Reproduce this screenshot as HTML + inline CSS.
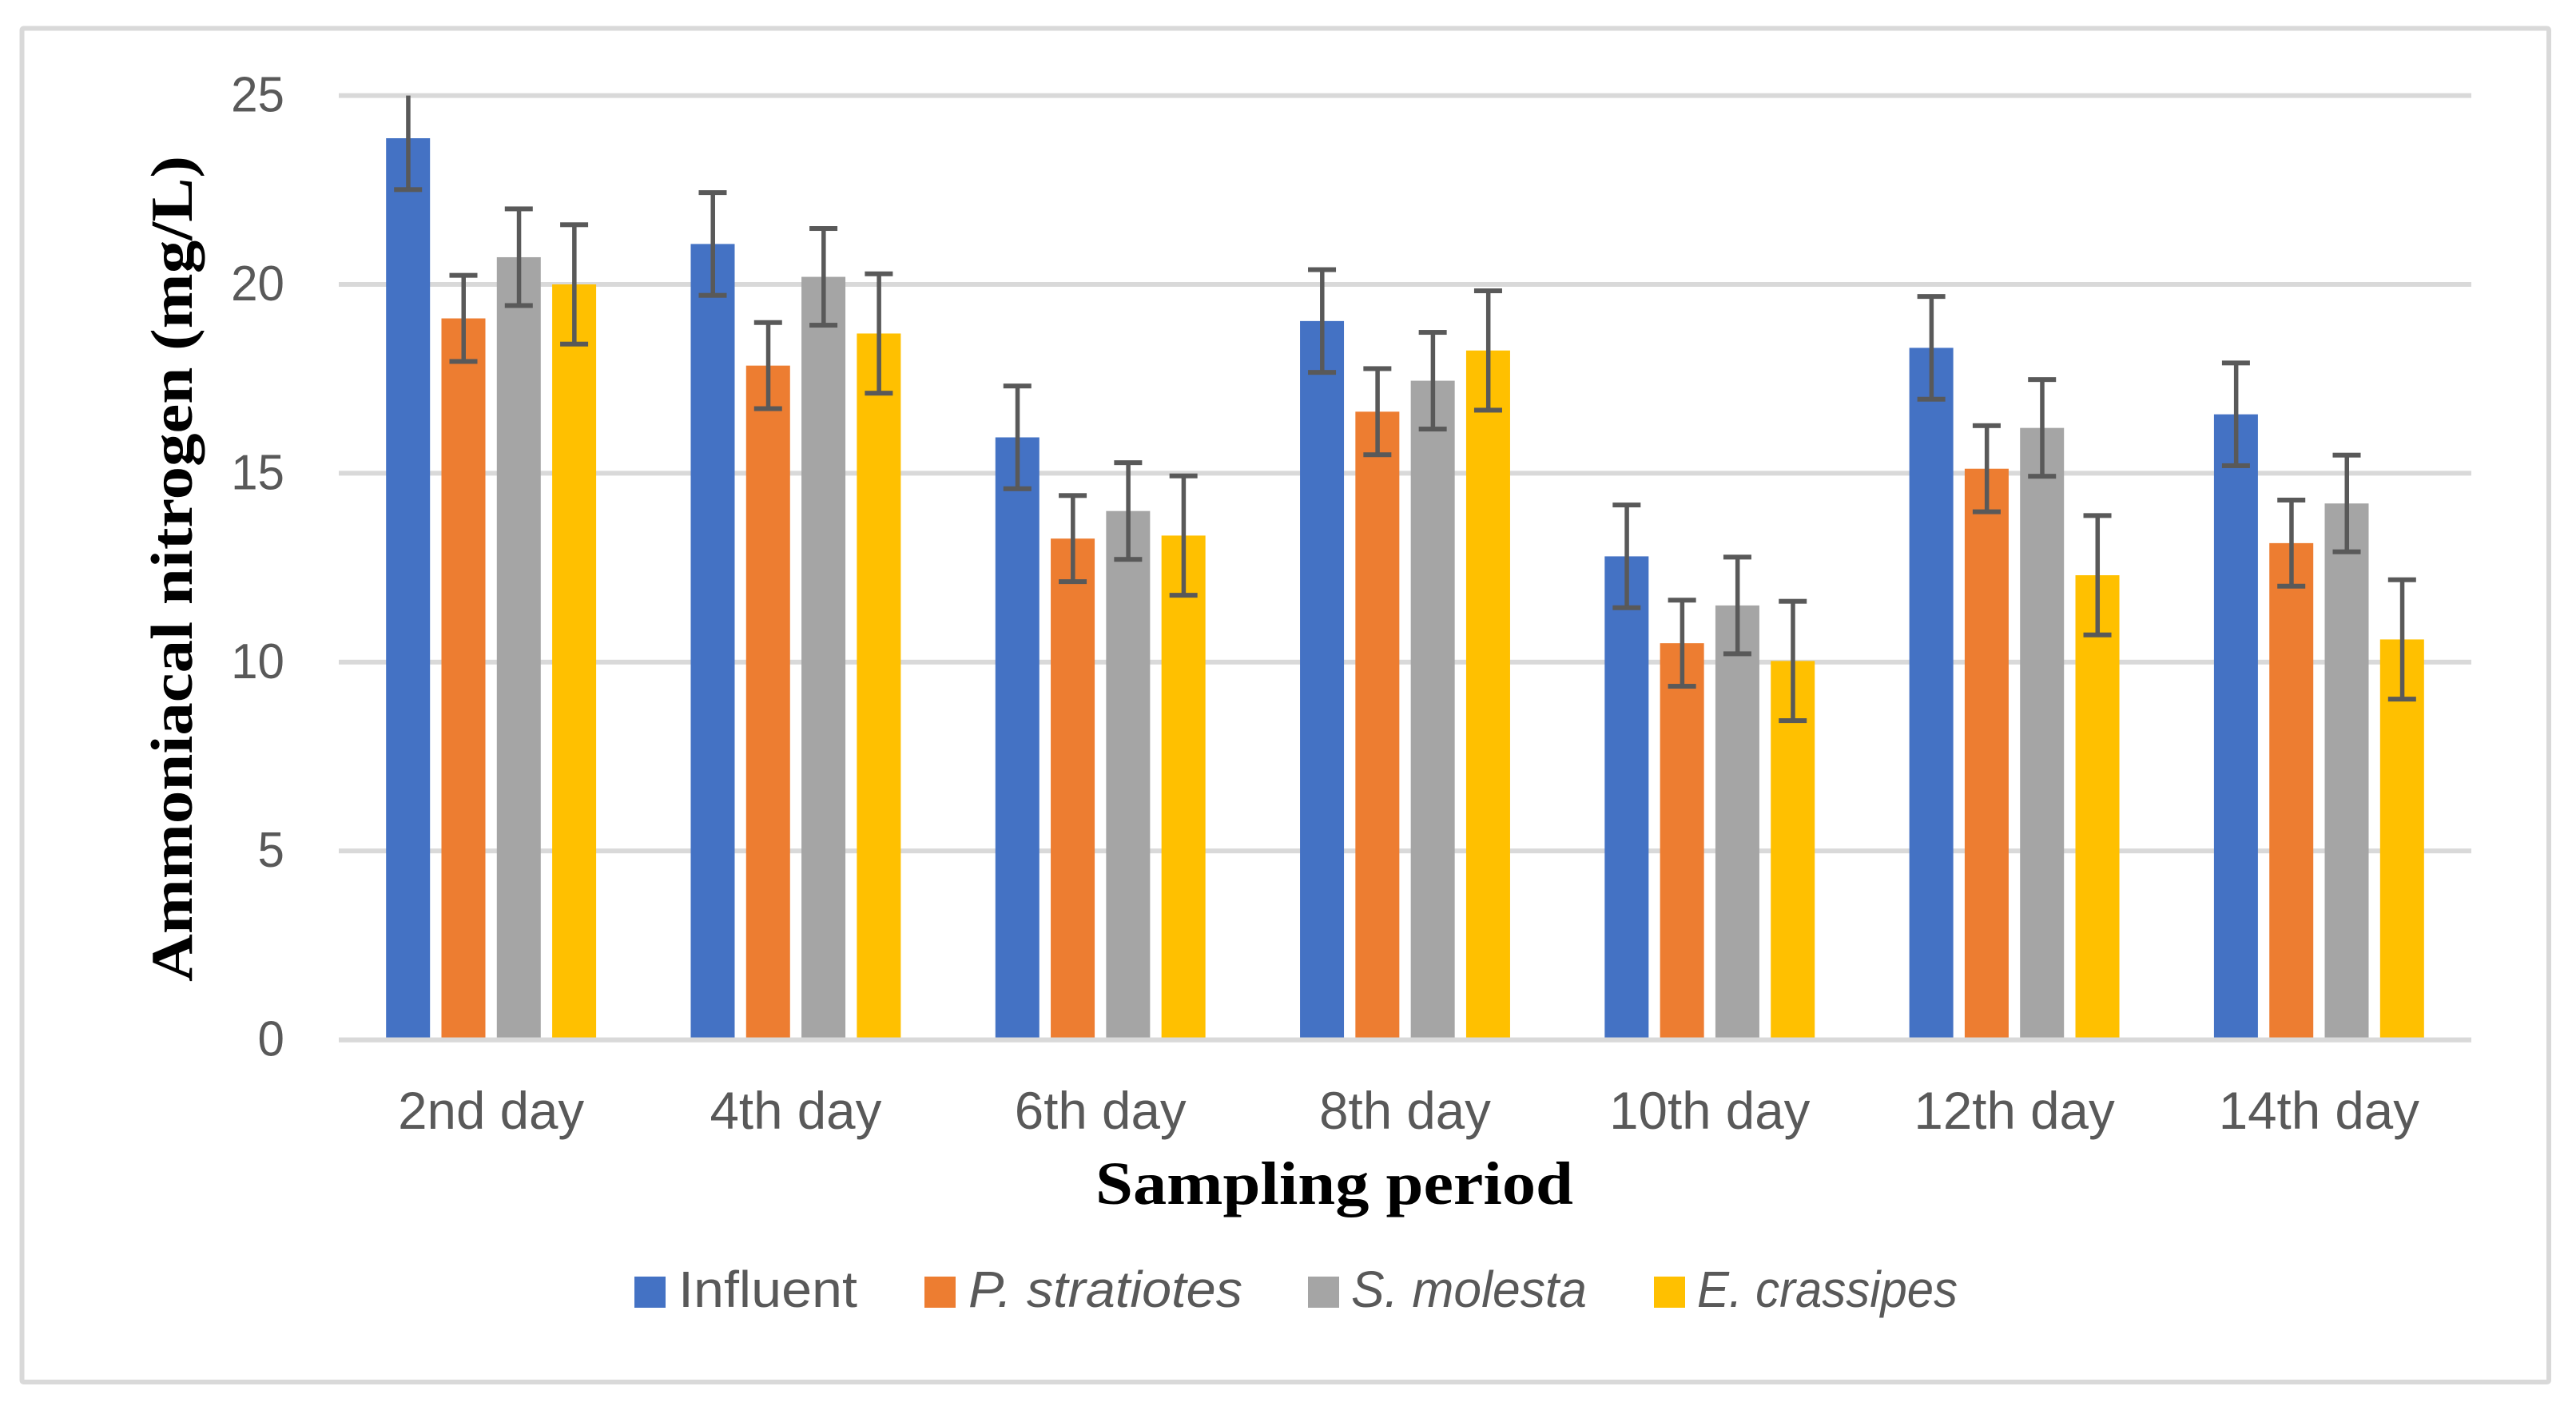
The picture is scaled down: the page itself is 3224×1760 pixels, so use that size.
<!DOCTYPE html>
<html lang="en">
<head>
<meta charset="utf-8">
<title>Ammoniacal nitrogen by sampling period</title>
<style>
  html, body { margin: 0; padding: 0; background: #ffffff; }
  body { width: 3224px; height: 1760px; overflow: hidden; }
  svg { display: block; }
  .sans { font-family: "Liberation Sans", sans-serif; fill: #595959; }
  .serif { font-family: "Liberation Serif", serif; font-weight: bold; fill: #000000; }
</style>
</head>
<body>
<svg id="chart" xmlns="http://www.w3.org/2000/svg" width="3224" height="1760" viewBox="0 0 3224 1760">
  <rect x="27.5" y="35.5" width="3162.5" height="1694.5" rx="2" fill="#ffffff" stroke="#d9d9d9" stroke-width="6"/>
  <g id="grid"></g>
  <g id="ticks"></g>
  <g id="bars"></g>
  <rect x="424" y="1298.6" width="2669" height="6.2" fill="#d9d9d9"/>
  <g id="errors"></g>
  <g id="cats"></g>
  <text class="serif" font-size="74" text-anchor="middle" transform="translate(240 712) rotate(-90)" textLength="1034" lengthAdjust="spacingAndGlyphs">Ammoniacal nitrogen (mg/L)</text>
  <text class="serif" font-size="76" x="1371" y="1507" textLength="598" lengthAdjust="spacingAndGlyphs">Sampling period</text>
  <g>
    <g>
      <rect x="794" y="1598" width="39" height="39" fill="#4472c4"/>
      <text class="sans" font-size="64" x="849" y="1636" textLength="224" lengthAdjust="spacingAndGlyphs">Influent</text>
    </g>
    <g>
      <rect x="1157" y="1598" width="39" height="39" fill="#ed7d31"/>
      <text class="sans" font-size="64" font-style="italic" x="1212" y="1636" textLength="343" lengthAdjust="spacingAndGlyphs">P. stratiotes</text>
    </g>
    <g>
      <rect x="1637" y="1598" width="39" height="39" fill="#a5a5a5"/>
      <text class="sans" font-size="64" font-style="italic" x="1691" y="1636" textLength="295" lengthAdjust="spacingAndGlyphs">S. molesta</text>
    </g>
    <g>
      <rect x="2070" y="1598" width="39" height="39" fill="#ffc000"/>
      <text class="sans" font-size="64" font-style="italic" x="2124" y="1636" textLength="326" lengthAdjust="spacingAndGlyphs">E. crassipes</text>
    </g>
  </g>
</svg>
<script>
const categories = ["2nd day", "4th day", "6th day", "8th day", "10th day", "12th day", "14th day"];
const yTicks = [0, 5, 10, 15, 20, 25];
const seriesKeys = ["influent", "p-stratiotes", "s-molesta", "e-crassipes"];
const influent = [23.87, 21.07, 15.95, 19.03, 12.8, 18.32, 16.56];
const pStratiotes = [19.1, 17.85, 13.27, 16.63, 10.5, 15.12, 13.15];
const sMolesta = [20.72, 20.2, 14.0, 17.45, 11.5, 16.2, 14.2];
const eCrassipes = [20.0, 18.7, 13.35, 18.25, 10.03, 12.3, 10.6];
const errorMagnitudes = [1.36, 1.14, 1.28, 1.58];
const seriesValues = [influent, pStratiotes, sMolesta, eCrassipes];
const seriesColors = ["#4472c4", "#ed7d31", "#a5a5a5", "#ffc000"];

const NS = "http://www.w3.org/2000/svg";
const plot = { left: 424, right: 3093, y0: 1301.6, unit: 47.28, max: 25 };
const catStep = (plot.right - plot.left) / categories.length;
const barStep = 69.3;
const barWidth = 55;

function yScale(v) { return plot.y0 - v * plot.unit; }
function catCenter(i) { return plot.left + catStep * (i + 0.5); }
function barCenter(i, s) { return catCenter(i) + (s - (seriesValues.length - 1) / 2) * barStep; }

function make(tag, parentId, attrs) {
  const el = document.createElementNS(NS, tag);
  for (const k in attrs) el.setAttribute(k, attrs[k]);
  document.getElementById(parentId).appendChild(el);
  return el;
}

yTicks.forEach(function (t) {
  if (t !== 0) {
    const line = make("rect", "grid", { x: plot.left, y: yScale(t) - 3, width: plot.right - plot.left, height: 6, fill: "#d9d9d9" });
    
    
  }
  const label = make("text", "ticks", { x: 0, y: 0, "class": "sans", "font-size": 62, "text-anchor": "end" });
  label.setAttribute("transform", "translate(356 " + (yScale(t) + 20) + ") scale(0.97 1)");
  label.textContent = String(t);
  
  
});

categories.forEach(function (c, i) {
  const label = make("text", "cats", { x: catCenter(i), y: 1413, "class": "sans", "font-size": 65.5, "text-anchor": "middle" });
  label.textContent = c;
  
  
});

seriesValues.forEach(function (values, s) {
  values.forEach(function (v, i) {
    const cx = barCenter(i, s);
    const bar = make("rect", "bars", { x: cx - barWidth / 2, y: yScale(v), width: barWidth, height: plot.y0 - yScale(v), fill: seriesColors[s] });
    
    

    const hi = v + errorMagnitudes[s];
    const lo = v - errorMagnitudes[s];
    const clipped = hi > plot.max;
    const topV = Math.min(hi, plot.max);
    const stem = make("rect", "errors", { x: cx - 2.5, y: yScale(topV), width: 5.5, height: yScale(lo) - yScale(topV), fill: "#595959" });
    
    
    if (!clipped) {
      const capTop = make("rect", "errors", { x: cx - 17.5, y: yScale(hi) - 3, width: 35, height: 6, fill: "#595959" });
      
      
    }
    const capBottom = make("rect", "errors", { x: cx - 17.5, y: yScale(lo) - 3, width: 35, height: 6, fill: "#595959" });
    
    
  });
});
</script>
</body>
</html>
